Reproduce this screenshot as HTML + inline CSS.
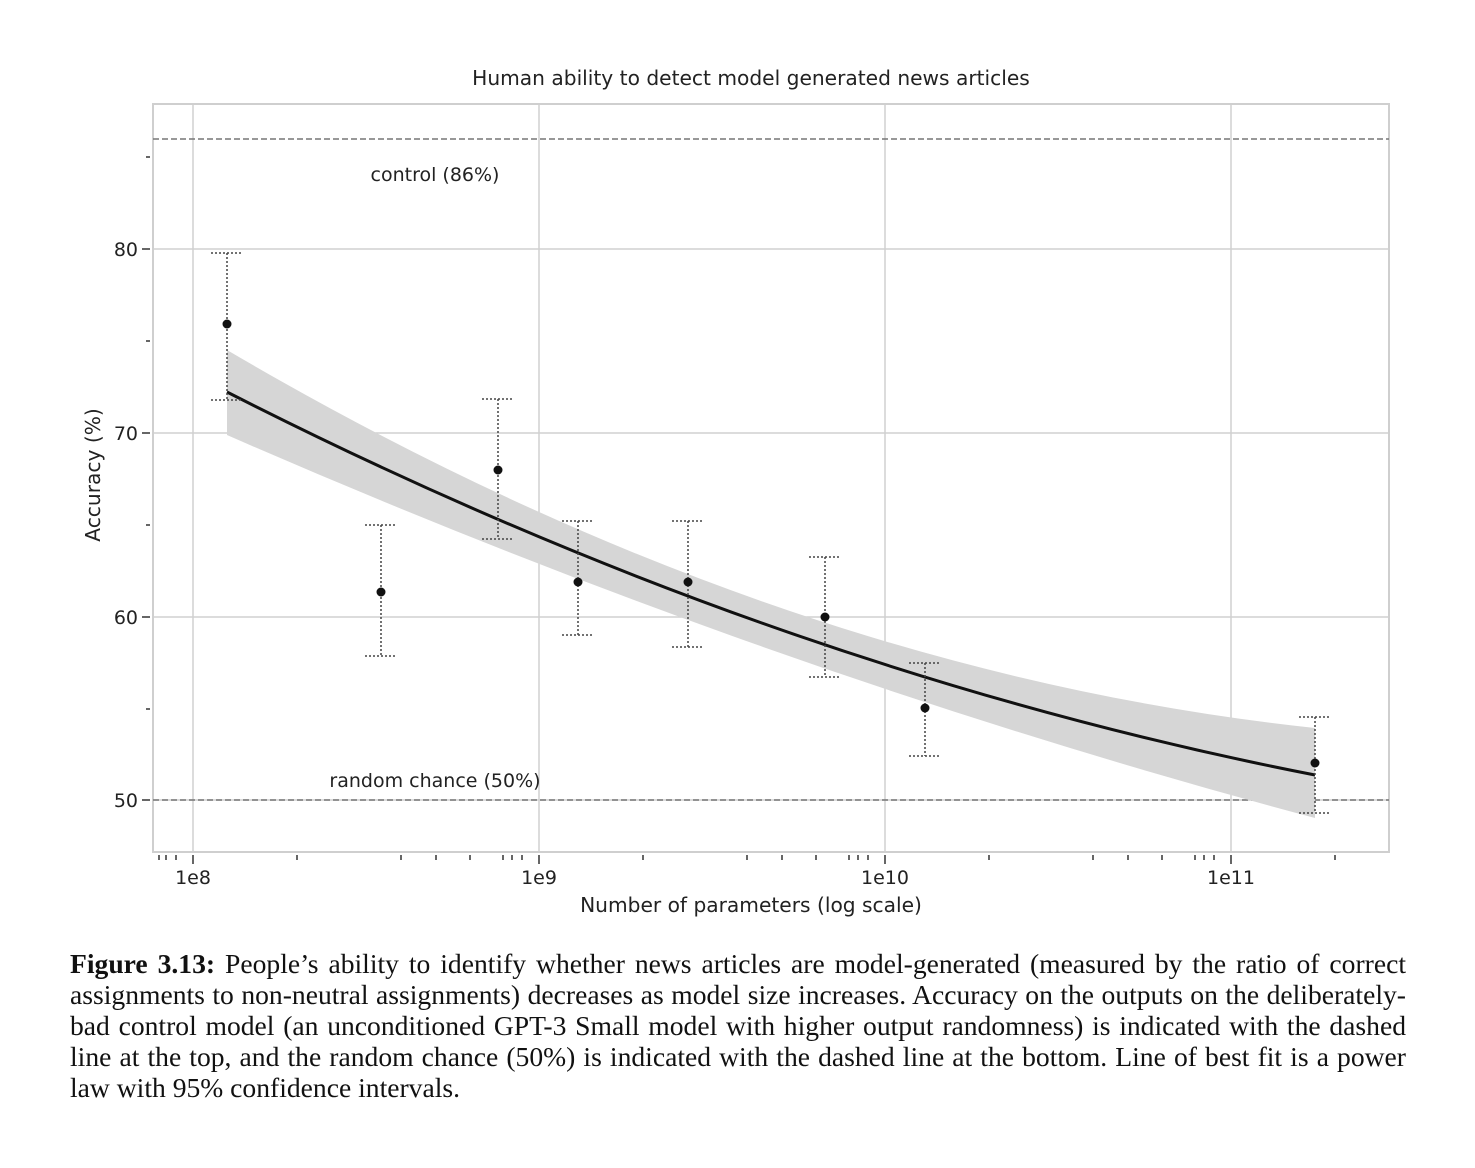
<!DOCTYPE html>
<html><head><meta charset="utf-8"><style>
body{margin:0;background:#fff;width:1475px;height:1168px;overflow:hidden;position:relative}
.cap{position:absolute;left:70px;top:948px;width:1336px;font-family:"Liberation Serif",serif;font-size:27.6px;line-height:31px;text-align:justify;color:#111}
</style></head><body>
<svg width="1475" height="940" style="position:absolute;left:0;top:0" font-family="DejaVu Sans, sans-serif">
<text x="751" y="85" font-size="20.2" text-anchor="middle" fill="#222">Human ability to detect model generated news articles</text>
<g stroke="#d0d0d0" stroke-width="1.5">
<line x1="193" y1="104" x2="193" y2="852"/><line x1="539" y1="104" x2="539" y2="852"/><line x1="885" y1="104" x2="885" y2="852"/><line x1="1231" y1="104" x2="1231" y2="852"/>
<line x1="153" y1="249" x2="1389" y2="249"/><line x1="153" y1="433" x2="1389" y2="433"/><line x1="153" y1="617" x2="1389" y2="617"/><line x1="153" y1="800" x2="1389" y2="800"/>
</g>
<rect x="153" y="104" width="1236" height="748" fill="none" stroke="#cfcfcf" stroke-width="2"/>
<g stroke="#777" stroke-width="1.5" stroke-dasharray="6,3">
<line x1="153" y1="139" x2="1389" y2="139"/><line x1="153" y1="800" x2="1389" y2="800"/>
</g>
<text x="435" y="181" font-size="19" text-anchor="middle" fill="#222">control (86%)</text>
<text x="435" y="787" font-size="19" text-anchor="middle" fill="#222">random chance (50%)</text>
<path fill="#d6d6d6" d="M227,350 Q771,670 1315,728 L1315,818 Q771,673 227,435 Z"/>
<path fill="none" stroke="#111" stroke-width="3" d="M227,392 Q771,669 1315,775"/>
<g stroke="#444" stroke-width="1.5" stroke-dasharray="2,2">
<line x1="227" y1="253" x2="227" y2="400"/><line x1="211" y1="253" x2="243" y2="253"/><line x1="211" y1="400" x2="243" y2="400"/>
<line x1="381" y1="525" x2="381" y2="656"/><line x1="365" y1="525" x2="397" y2="525"/><line x1="365" y1="656" x2="397" y2="656"/>
<line x1="498" y1="399" x2="498" y2="539"/><line x1="482" y1="399" x2="514" y2="399"/><line x1="482" y1="539" x2="514" y2="539"/>
<line x1="578" y1="521" x2="578" y2="635"/><line x1="562" y1="521" x2="594" y2="521"/><line x1="562" y1="635" x2="594" y2="635"/>
<line x1="688" y1="521" x2="688" y2="647"/><line x1="672" y1="521" x2="704" y2="521"/><line x1="672" y1="647" x2="704" y2="647"/>
<line x1="825" y1="557" x2="825" y2="677"/><line x1="809" y1="557" x2="841" y2="557"/><line x1="809" y1="677" x2="841" y2="677"/>
<line x1="925" y1="663" x2="925" y2="756"/><line x1="909" y1="663" x2="941" y2="663"/><line x1="909" y1="756" x2="941" y2="756"/>
<line x1="1315" y1="717" x2="1315" y2="813"/><line x1="1299" y1="717" x2="1331" y2="717"/><line x1="1299" y1="813" x2="1331" y2="813"/>
</g>
<g fill="#111">
<circle cx="227" cy="324" r="4.5"/><circle cx="381" cy="592" r="4.5"/><circle cx="498" cy="470" r="4.5"/><circle cx="578" cy="582" r="4.5"/><circle cx="688" cy="582" r="4.5"/><circle cx="825" cy="617" r="4.5"/><circle cx="925" cy="708" r="4.5"/><circle cx="1315" cy="763" r="4.5"/>
</g>
<g stroke="#333" stroke-width="1.5">
<line x1="142" y1="249" x2="150" y2="249"/><line x1="142" y1="433" x2="150" y2="433"/><line x1="142" y1="617" x2="150" y2="617"/><line x1="142" y1="800" x2="150" y2="800"/>
<line x1="146" y1="157" x2="150" y2="157"/><line x1="146" y1="341" x2="150" y2="341"/><line x1="146" y1="525" x2="150" y2="525"/><line x1="146" y1="709" x2="150" y2="709"/>
<line x1="193" y1="855" x2="193" y2="864"/><line x1="539" y1="855" x2="539" y2="864"/><line x1="885" y1="855" x2="885" y2="864"/><line x1="1231" y1="855" x2="1231" y2="864"/>
<path d="M159 855v5M166 855v5M176 855v5M297 855v5M401 855v5M436 855v5M470 855v5M503 855v5M512 855v5M522 855v5M643 855v5M747 855v5M782 855v5M816 855v5M849 855v5M858 855v5M868 855v5M989 855v5M1093 855v5M1128 855v5M1162 855v5M1195 855v5M1204 855v5M1214 855v5M1335 855v5"/>
</g>
<g font-size="19" fill="#222">
<text x="138" y="256" text-anchor="end">80</text><text x="138" y="440" text-anchor="end">70</text><text x="138" y="624" text-anchor="end">60</text><text x="138" y="807" text-anchor="end">50</text>
<text x="193" y="884" text-anchor="middle">1e8</text><text x="539" y="884" text-anchor="middle">1e9</text><text x="885" y="884" text-anchor="middle">1e10</text><text x="1231" y="884" text-anchor="middle">1e11</text>
<text x="751" y="912" text-anchor="middle" font-size="20.2">Number of parameters (log scale)</text>
<text transform="translate(100,475) rotate(-90)" text-anchor="middle" font-size="20.2">Accuracy (%)</text>
</g>
</svg>
<div class="cap"><b>Figure 3.13:</b> People’s ability to identify whether news articles are model-generated (measured by the ratio of correct assignments to non-neutral assignments) decreases as model size increases. Accuracy on the outputs on the deliberately-bad control model (an unconditioned GPT-3 Small model with higher output randomness) is indicated with the dashed line at the top, and the random chance (50%) is indicated with the dashed line at the bottom. Line of best fit is a power law with 95% confidence intervals.</div>
</body></html>
